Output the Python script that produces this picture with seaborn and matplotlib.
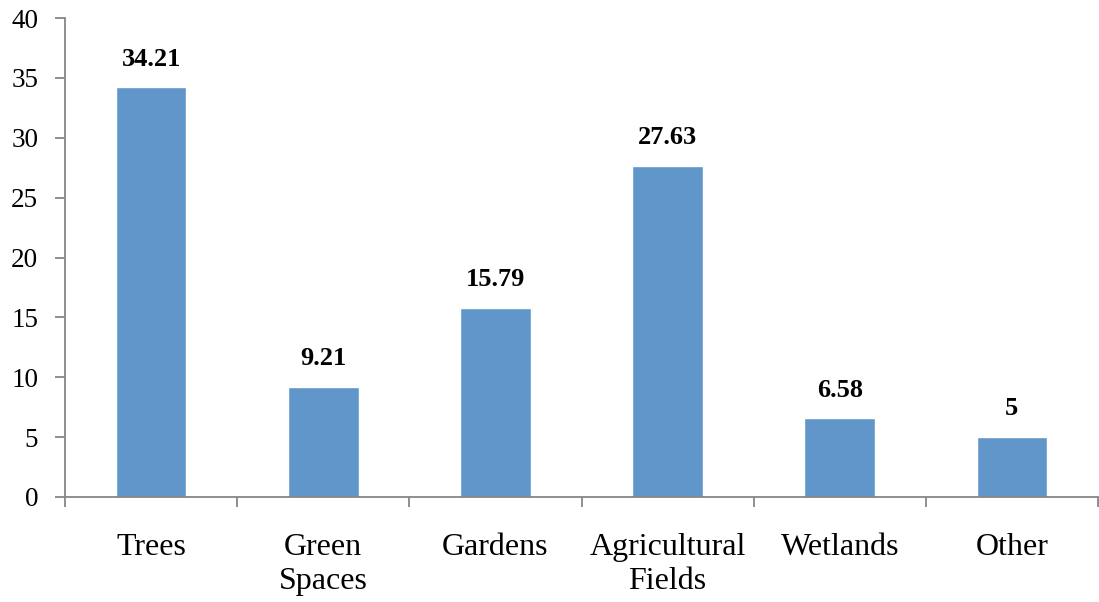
import matplotlib
matplotlib.use("Agg")
import matplotlib.pyplot as plt
import seaborn as sns
import pandas as pd
from matplotlib.ticker import FixedLocator

categories = ["Trees", "Green\nSpaces", "Gardens", "Agricultural\nFields", "Wetlands", "Other"]
values = [34.21, 9.21, 15.79, 27.63, 6.58, 5]
value_labels = ["34.21", "9.21", "15.79", "27.63", "6.58", "5"]
y_ticks = [0, 5, 10, 15, 20, 25, 30, 35, 40]

df = pd.DataFrame({"category": categories, "value": values})

sns.set_theme(style="white")
plt.rcParams["font.family"] = ["Liberation Serif", "DejaVu Serif"]

fig = plt.figure(figsize=(10.99, 6.02), dpi=100)
ax = fig.add_axes([65 / 1099, 105 / 602, 1033 / 1099, 479 / 602])

sns.barplot(data=df, x="category", y="value", color="#6096CA", width=0.41,
            saturation=1, ax=ax)

ax.set_xlim(-0.5, len(categories) - 0.5)
ax.set_ylim(0, 40)
ax.set_yticks(y_ticks)
ax.set_xlabel("")
ax.set_ylabel("")

grey = "#868686"
for side in ["top", "right"]:
    ax.spines[side].set_visible(False)
for side in ["left", "bottom"]:
    ax.spines[side].set_color(grey)
    ax.spines[side].set_linewidth(1.3)

ax.tick_params(axis="y", which="major", left=True, length=7.2, width=1.3,
               color=grey, labelsize=19.5, pad=12, labelcolor="black")
ax.tick_params(axis="x", which="major", bottom=False, length=0,
               labelsize=23, pad=26, labelcolor="black")
# boundary ticks between categories
ax.xaxis.set_minor_locator(FixedLocator([i - 0.5 for i in range(len(categories) + 1)]))
ax.tick_params(axis="x", which="minor", bottom=True, length=7, width=1.3, color=grey)
for lbl in ax.get_xticklabels():
    lbl.set_linespacing(1.22)
    lbl.set_verticalalignment("top")

for i, (v, t) in enumerate(zip(values, value_labels)):
    ax.annotate(t, (i, v), xytext=(0, 12), textcoords="offset points",
                ha="center", va="bottom", fontsize=19, fontweight="bold",
                color="black")

fig.savefig("out.png", dpi=100)
